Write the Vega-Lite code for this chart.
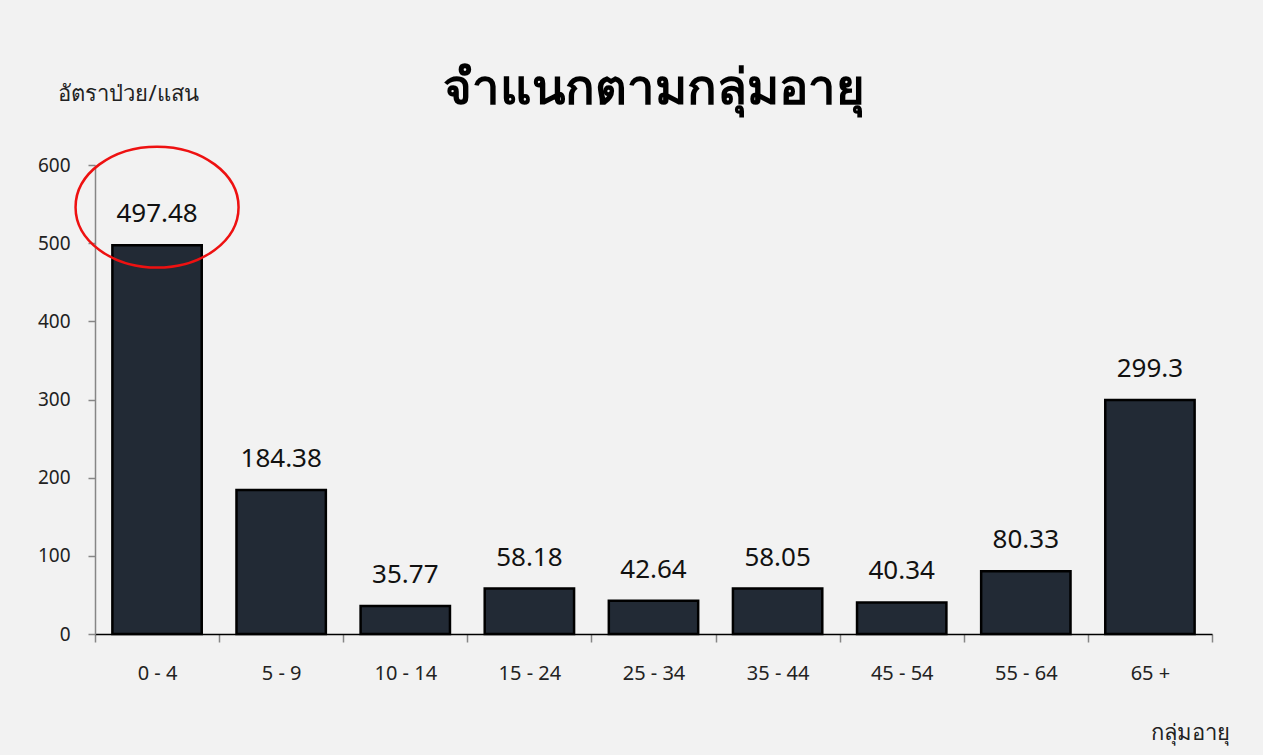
{
  "$schema": "https://vega.github.io/schema/vega-lite/v6.json",
  "width": 1117,
  "height": 469,
  "autosize": {"type": "none"},
  "padding": {"left": 95, "top": 165, "right": 51, "bottom": 121},
  "background": "#f2f2f2",
  "config": {"view": {"stroke": null}, "font": "Noto Sans"},
  "title": {
    "text": "จำแนกตามกลุ่มอายุ",
    "fontSize": 49,
    "fontWeight": "bold",
    "color": "#000000",
    "anchor": "middle",
    "frame": "group",
    "baseline": "alphabetic",
    "offset": 0,
    "dy": 71
  },
  "data": {
    "values": [
      {"age": "0 - 4", "rate": 497.48},
      {"age": "5 - 9", "rate": 184.38},
      {"age": "10 - 14", "rate": 35.77},
      {"age": "15 - 24", "rate": 58.18},
      {"age": "25 - 34", "rate": 42.64},
      {"age": "35 - 44", "rate": 58.05},
      {"age": "45 - 54", "rate": 40.34},
      {"age": "55 - 64", "rate": 80.33},
      {"age": "65 +", "rate": 299.3}
    ]
  },
  "encoding": {
    "x": {
      "field": "age",
      "type": "nominal",
      "sort": null,
      "scale": {"paddingInner": 0, "paddingOuter": 0},
      "axis": {
        "title": "กลุ่มอายุ",
        "titleFontSize": 22,
        "titleFontWeight": "normal",
        "titleColor": "#222222",
        "titleAnchor": "start",
        "titleAlign": "center",
        "titleX": 1095,
        "titleY": 88,
        "labelAngle": 0,
        "labelFontSize": 20,
        "labelColor": "#222222",
        "labelPadding": 21,
        "domainColor": "#000000",
        "domainWidth": 1.5,
        "tickColor": "#868686",
        "tickSize": 8,
        "tickWidth": 1.5,
        "tickBand": "extent"
      }
    },
    "y": {
      "field": "rate",
      "type": "quantitative",
      "scale": {"domain": [0, 600]},
      "axis": {
        "title": "อัตราป่วย/แสน",
        "titleAngle": 0,
        "titleFontSize": 22,
        "titleFontWeight": "normal",
        "titleColor": "#222222",
        "titleAlign": "center",
        "titleBaseline": "middle",
        "titleX": 33,
        "titleY": -72,
        "values": [0, 100, 200, 300, 400, 500, 600],
        "labelFontSize": 19,
        "labelColor": "#222222",
        "labelPadding": 18,
        "domainColor": "#868686",
        "domainWidth": 1.5,
        "tickColor": "#868686",
        "tickSize": 7,
        "tickWidth": 1.5,
        "grid": false
      }
    }
  },
  "layer": [
    {
      "mark": {"type": "bar", "width": {"band": 0.72}, "fill": "#222a35", "stroke": "#000000", "strokeWidth": 2.5}
    },
    {
      "mark": {"type": "text", "baseline": "alphabetic", "dy": -23, "fontSize": 26, "color": "#111111"},
      "encoding": {"text": {"field": "rate", "type": "quantitative"}}
    },
    {
      "transform": [{"filter": "datum.age === '0 - 4'"}],
      "mark": {
        "type": "point",
        "shape": "M-1,0A1,0.742 0 1,1 1,0A1,0.742 0 1,1 -1,0Z",
        "size": 26569,
        "filled": false,
        "stroke": "#ee1111",
        "strokeWidth": 2.5,
        "opacity": 1,
        "yOffset": -38
      }
    }
  ]
}
